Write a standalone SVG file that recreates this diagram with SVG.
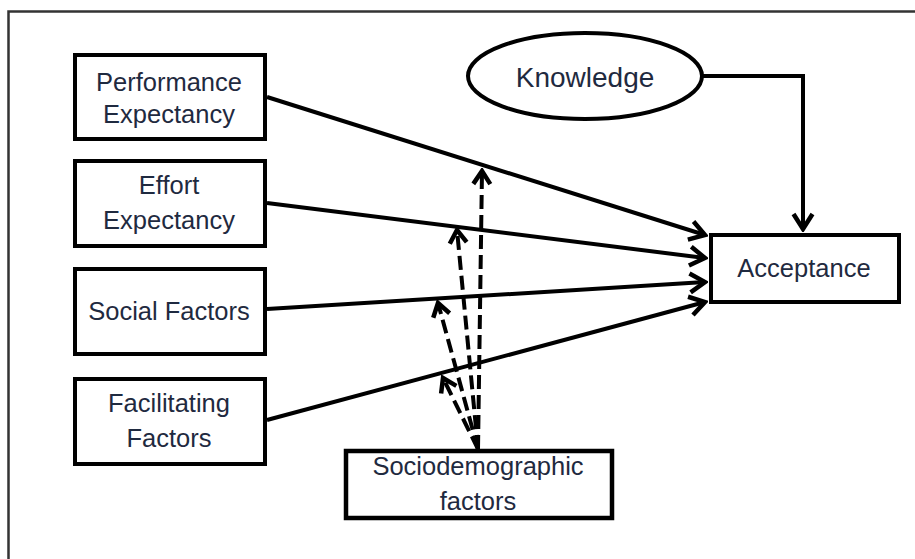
<svg xmlns="http://www.w3.org/2000/svg" width="915" height="559" viewBox="0 0 915 559">
<defs>
<style>
.box{fill:#fff;stroke:#000;stroke-width:4}
.lbl{font-family:"Liberation Sans",Arial,sans-serif;font-size:25.5px;fill:#1f2a40;text-anchor:middle}
.solid{fill:none;stroke:#000;stroke-width:4}
.dash{fill:none;stroke:#000;stroke-width:4;stroke-dasharray:14 6}
</style>
<marker id="ah" viewBox="-19 -12 22 24" markerWidth="22" markerHeight="24" refX="0" refY="0" orient="auto" markerUnits="userSpaceOnUse">
<path d="M-15,-9.5 L0,0 L-15,9.5" fill="none" stroke="#000" stroke-width="4.5" stroke-linejoin="miter"/>
</marker>
<marker id="ahd" viewBox="-17 -11 20 22" markerWidth="20" markerHeight="22" refX="0" refY="0" orient="auto" markerUnits="userSpaceOnUse">
<path d="M-13,-8.5 L0,0 L-13,8.5" fill="none" stroke="#000" stroke-width="4.5"/>
</marker>
</defs>
<rect width="915" height="559" fill="#fff"/>
<path d="M8.5,559 V11.5 H915" fill="none" stroke="#333" stroke-width="2.5"/>

<g id="connectors">
<line class="solid" x1="267" y1="97" x2="705" y2="235" marker-end="url(#ah)"/>
<line class="solid" x1="267" y1="203" x2="705" y2="258" marker-end="url(#ah)"/>
<line class="solid" x1="267" y1="309" x2="705" y2="282" marker-end="url(#ah)"/>
<line class="solid" x1="267" y1="420" x2="705" y2="302" marker-end="url(#ah)"/>
<path class="solid" d="M703,76 H803 V229" marker-end="url(#ah)"/>
<line class="dash" x1="478" y1="449" x2="482" y2="171" marker-end="url(#ahd)"/>
<line class="dash" x1="478" y1="449" x2="457" y2="230" marker-end="url(#ahd)"/>
<line class="dash" x1="478" y1="449" x2="438" y2="303" marker-end="url(#ahd)"/>
<line class="dash" x1="478" y1="449" x2="443" y2="378" marker-end="url(#ahd)"/>
</g>

<g id="performance-expectancy">
<rect class="box" x="75" y="55" width="190" height="84"/>
<text class="lbl" x="169" y="91">Performance</text>
<text class="lbl" x="169" y="123">Expectancy</text>
</g>
<g id="effort-expectancy">
<rect class="box" x="75" y="161" width="190" height="85"/>
<text class="lbl" x="169" y="194">Effort</text>
<text class="lbl" x="169" y="229">Expectancy</text>
</g>
<g id="social-factors">
<rect class="box" x="75" y="269" width="190" height="85"/>
<text class="lbl" x="169" y="320">Social Factors</text>
</g>
<g id="facilitating-factors">
<rect class="box" x="75" y="379" width="190" height="85"/>
<text class="lbl" x="169" y="412">Facilitating</text>
<text class="lbl" x="169" y="447">Factors</text>
</g>
<g id="knowledge">
<ellipse cx="585" cy="76" rx="117" ry="43" fill="#fff" stroke="#000" stroke-width="4"/>
<text class="lbl" x="585" y="87" style="font-size:28px">Knowledge</text>
</g>
<g id="acceptance">
<rect class="box" x="711" y="235" width="188" height="67"/>
<text class="lbl" x="804" y="277">Acceptance</text>
</g>
<g id="sociodemographic-factors">
<rect class="box" x="346" y="451" width="266" height="67" style="stroke-width:4.5"/>
<text class="lbl" x="478" y="475">Sociodemographic</text>
<text class="lbl" x="478" y="510">factors</text>
</g>
</svg>
